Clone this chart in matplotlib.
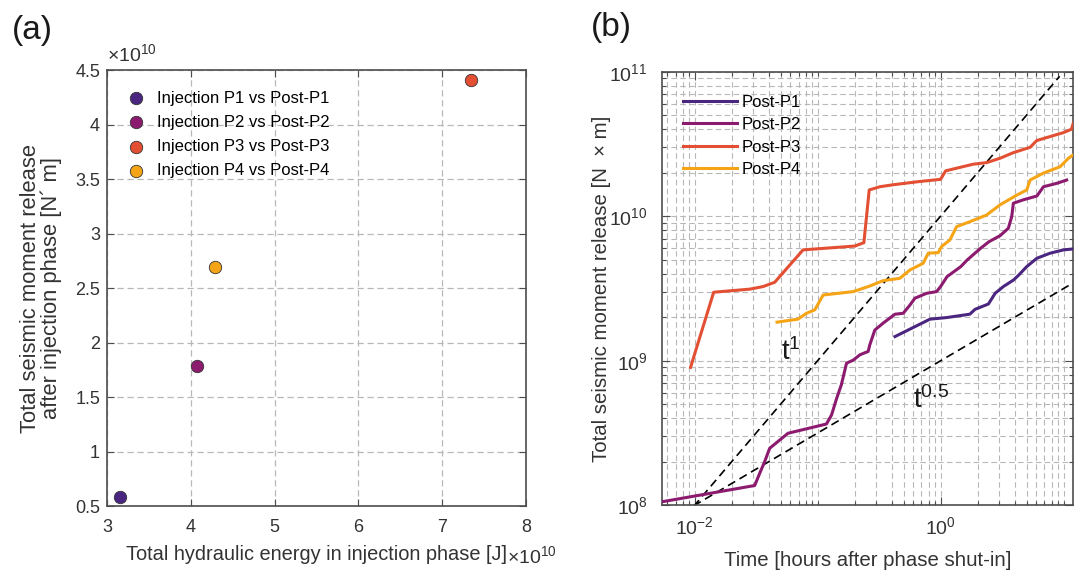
import numpy as np
import matplotlib
matplotlib.use("Agg")
import matplotlib.pyplot as plt
from matplotlib.ticker import FixedLocator, NullFormatter, LogFormatterMathtext

plt.rcParams['font.family'] = ['Liberation Sans', 'DejaVu Sans']
plt.rcParams['mathtext.fontset'] = 'custom'
plt.rcParams['mathtext.rm'] = 'Liberation Sans'
plt.rcParams['mathtext.it'] = 'Liberation Sans'

# panel (a): energy vs moment, both in units of 1e10
labels_a = ['Injection P1 vs Post-P1', 'Injection P2 vs Post-P2',
            'Injection P3 vs Post-P3', 'Injection P4 vs Post-P4']
hydraulic_energy_e10 = [3.15, 4.08, 7.34, 4.29]
moment_after_e10 = [0.585, 1.78, 4.41, 2.69]
colors = ['#4b2680', '#8c1a6f', '#e34f33', '#f5a416']

# panel (b): cumulative moment after shut-in
p1_t = [0.426, 0.82, 1.12, 1.73, 1.91, 2.45, 2.78, 3.24, 3.92, 4.3, 5.02, 6.07, 7.78, 9.98, 12.0]
p1_m = [1.47e9, 1.94e9, 1.99e9, 2.10e9, 2.27e9, 2.47e9, 2.93e9, 3.26e9, 3.62e9, 3.9e9,
        4.48e9, 5.12e9, 5.55e9, 5.85e9, 5.94e9]

p2_t = [0.00552, 0.0308, 0.0338, 0.0371, 0.0408, 0.0575, 0.118, 0.130, 0.143, 0.156,
        0.172, 0.195, 0.221, 0.258, 0.266, 0.292, 0.341, 0.426, 0.497, 0.564, 0.619,
        0.771, 0.93, 1.0, 1.13, 1.46, 1.65, 2.12, 2.48, 3.05, 3.56, 3.79, 3.91, 4.72,
        6.07, 6.87, 8.83, 10.6]
p2_m = [1.06e8, 1.37e8, 1.66e8, 2.00e8, 2.48e8, 3.15e8, 3.65e8, 4.22e8, 5.50e8, 6.81e8,
        9.62e8, 1.01e9, 1.10e9, 1.16e9, 1.29e9, 1.63e9, 1.82e9, 2.10e9, 2.13e9, 2.43e9,
        2.71e9, 2.93e9, 3.01e9, 3.26e9, 3.82e9, 4.48e9, 4.99e9, 6.01e9, 6.67e9, 7.34e9,
        8.26e9, 9.94e9, 1.23e10, 1.30e10, 1.38e10, 1.60e10, 1.69e10, 1.78e10]

p3_t = [0.00927, 0.0143, 0.0281, 0.036, 0.0448, 0.0762, 0.201, 0.238, 0.263, 0.321,
        0.409, 0.679, 1.0, 1.10, 1.35, 1.84, 2.37, 3.05, 3.89, 5.35, 6.06, 7.78, 9.98,
        11.6, 12.0]
p3_m = [9.0e8, 2.98e9, 3.13e9, 3.26e9, 3.49e9, 5.85e9, 6.22e9, 6.56e9, 1.52e10, 1.60e10,
        1.65e10, 1.74e10, 1.80e10, 2.06e10, 2.15e10, 2.29e10, 2.35e10, 2.52e10, 2.75e10,
        3.00e10, 3.34e10, 3.56e10, 3.79e10, 4.00e10, 4.4e10]

p4_t = [0.0468, 0.0693, 0.0812, 0.0949, 0.111, 0.195, 0.266, 0.341, 0.467, 0.564,
        0.723, 0.794, 0.958, 1.02, 1.19, 1.35, 1.74, 2.37, 3.05, 4.17, 5.02, 5.35, 6.87,
        9.38, 10.96, 12.0]
p4_m = [1.85e9, 1.94e9, 2.13e9, 2.25e9, 2.85e9, 3.01e9, 3.29e9, 3.58e9, 3.72e9, 4.25e9,
        4.73e9, 5.55e9, 5.60e9, 6.17e9, 6.85e9, 8.47e9, 9.18e9, 1.02e10, 1.20e10, 1.40e10,
        1.52e10, 1.78e10, 1.99e10, 2.20e10, 2.52e10, 2.66e10]

series_b = ['Post-P1', 'Post-P2', 'Post-P3', 'Post-P4']

# reference slopes (end points)
ref1_t = [0.0098, 9.3]
ref1_m = [9.8e7, 9.3e10]
ref05_t = [0.0098, 12.0]
ref05_m = [9.9e7, 3.46e9]

txt = '#333333'
spine = '#4d4d4d'
gridc = '#b8b8b8'

fig = plt.figure(figsize=(10.84, 5.71), dpi=100)

# ---------- panel (a)
ax1 = fig.add_axes([0.0987, 0.1138, 0.3865, 0.7636])
for i in range(4):
    ax1.scatter(hydraulic_energy_e10[i], moment_after_e10[i], s=80, color=colors[i],
                edgecolor='#333333', linewidth=0.6, label=labels_a[i], zorder=3)
ax1.set_xlim(3, 8)
ax1.set_ylim(0.5, 4.5)
ax1.set_xticks(np.arange(3, 8.1, 1))
ax1.set_yticks(np.arange(0.5, 4.51, 0.5))
ax1.set_xticklabels(['3', '4', '5', '6', '7', '8'])
ax1.set_yticklabels(['0.5', '1', '1.5', '2', '2.5', '3', '3.5', '4', '4.5'])
ax1.grid(True, linestyle=(0, (5, 3)), color=gridc, linewidth=0.9)
ax1.set_axisbelow(True)
ax1.tick_params(direction='in', top=True, right=True, labelsize=13, colors=spine,
                labelcolor=txt, length=5, width=0.8)
ax1.tick_params(axis='x', pad=9)
ax1.tick_params(axis='y', pad=5)
for s in ax1.spines.values():
    s.set_color(spine)
    s.set_linewidth(1.2)
ax1.set_xlabel('Total hydraulic energy in injection phase [J]', fontsize=14.4, color=txt,
               labelpad=7)
ax1.set_ylabel('Total seismic moment release\nafter injection phase [N\u00b4 m]',
               fontsize=15.8, color=txt, labelpad=9.5, linespacing=0.95)
ax1.text(0.0, 1.012, r'$\times\mathdefault{10^{10}}$', transform=ax1.transAxes,
         fontsize=14, color=txt, ha='left', va='bottom')
ax1.text(0.955, -0.09, r'$\times\mathdefault{10^{10}}$', transform=ax1.transAxes,
         fontsize=14, color=txt, ha='left', va='top')
ax1.legend(loc='upper left', frameon=False, fontsize=12, handletextpad=0.25,
           labelspacing=0.55, borderaxespad=0.0, scatterpoints=1,
           bbox_to_anchor=(0.014, 0.968))

# ---------- panel (b)
ax2 = fig.add_axes([0.6104, 0.1151, 0.3797, 0.7593])
p_t = [p1_t, p2_t, p3_t, p4_t]
p_m = [p1_m, p2_m, p3_m, p4_m]
for i in range(4):
    ax2.plot(p_t[i], p_m[i], color=colors[i], linewidth=2.2, label=series_b[i], zorder=3)
ax2.plot(ref1_t, ref1_m, color='black', linestyle=(0, (5, 3)), linewidth=1.2, zorder=2)
ax2.plot(ref05_t, ref05_m, color='black', linestyle=(0, (5, 3)), linewidth=1.2, zorder=2)
ax2.set_xscale('log')
ax2.set_yscale('log')
ax2.set_xlim(0.0054, 12.0)
ax2.set_ylim(1e8, 1e11)
ax2.xaxis.set_major_locator(FixedLocator([1e-2, 1e0]))
xminor = [k * 10.0 ** e for e in range(-3, 2) for k in range(1, 10)
          if k * 10.0 ** e not in (1e-2, 1e0)]
ax2.xaxis.set_minor_locator(FixedLocator(xminor))
ax2.yaxis.set_major_locator(FixedLocator([1e8, 1e9, 1e10, 1e11]))
yminor = [k * 10.0 ** e for e in range(8, 11) for k in range(2, 10)]
ax2.yaxis.set_minor_locator(FixedLocator(yminor))
ax2.xaxis.set_major_formatter(LogFormatterMathtext())
ax2.yaxis.set_major_formatter(LogFormatterMathtext())
ax2.xaxis.set_minor_formatter(NullFormatter())
ax2.yaxis.set_minor_formatter(NullFormatter())
ax2.grid(True, which='both', linestyle=(0, (5, 3)), color=gridc, linewidth=0.8)
ax2.set_axisbelow(True)
ax2.tick_params(which='both', direction='in', top=True, right=True, colors=spine,
                labelcolor=txt, labelsize=14, width=0.8)
ax2.tick_params(which='major', length=6)
ax2.tick_params(which='minor', length=3)
ax2.tick_params(axis='x', which='major', pad=8)
ax2.tick_params(axis='y', which='major', pad=10)
for s in ax2.spines.values():
    s.set_color(spine)
    s.set_linewidth(1.2)
ax2.set_xlabel('Time [hours after phase shut-in]', fontsize=14.7, color=txt, labelpad=9)
ax2.set_ylabel('Total seismic moment release [N  \u00d7 m]', fontsize=14.7, color=txt,
               labelpad=-1.5)
ax2.text(0.05, 9.2e8, r'$\mathdefault{t^{1}}$', fontsize=20, color='#1a1a1a',
         ha='left', va='bottom')
ax2.text(0.6, 4.3e8, r'$\mathdefault{t^{0.5}}$', fontsize=20, color='#1a1a1a',
         ha='left', va='bottom')
ax2.legend(loc='upper left', frameon=False, fontsize=12, handlelength=3.2,
           handletextpad=0.3, labelspacing=0.45, borderaxespad=0.9,
           bbox_to_anchor=(0.0, 0.997))

fig.text(0.011, 0.92, '(a)', fontsize=24, color='#1a1a1a', ha='left', va='bottom')
fig.text(0.545, 0.925, '(b)', fontsize=24, color='#1a1a1a', ha='left', va='bottom')

fig.savefig('out.png', dpi=100)
